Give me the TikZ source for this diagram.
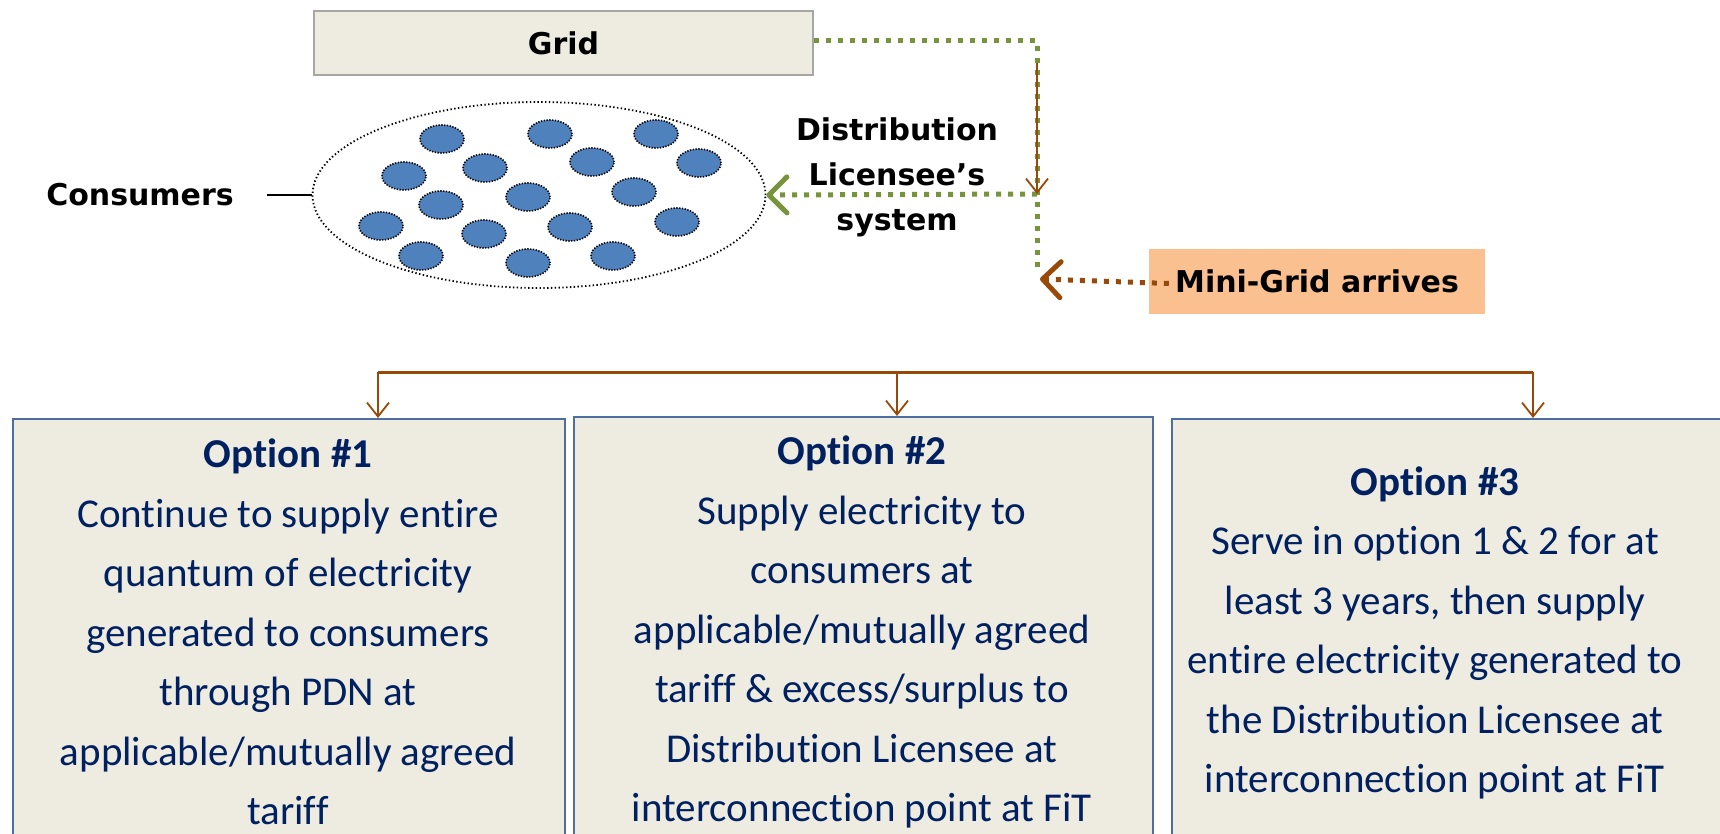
\documentclass[tikz,border=0pt]{standalone}
\usepackage{fontspec}
\setmainfont{Carlito}[Ligatures=NoCommon]
\newfontfamily\labelfont{DejaVu Sans}
\usetikzlibrary{arrows.meta,positioning,shapes.geometric}
\definecolor{panelfill}{HTML}{EEECE1}
\definecolor{panelline}{HTML}{4F6EA0}
\definecolor{gridline}{HTML}{A6A6A6}
\definecolor{minifill}{HTML}{FAC090}
\definecolor{feedgreen}{HTML}{77933C}
\definecolor{supplybrown}{HTML}{984807}
\definecolor{dotblue}{HTML}{4F81BD}
\definecolor{navy}{HTML}{002060}

\begin{document}
\begin{tikzpicture}[x=1pt,y=-1pt,
  boldlabel/.style={font=\labelfont\bfseries\fontsize{30}{45}\selectfont,align=center},
  panel/.style={draw=panelline,line width=1.5pt,fill=panelfill,anchor=north west,minimum height=432pt,minimum width=#1,inner sep=0pt},
  optiontext/.style={text=navy,align=center,font=\fontsize{41}{59.5}\selectfont},
  consumer/.style={ellipse,fill=dotblue,draw=black,line width=1.6pt,dash pattern=on 1.3pt off 1.5pt,minimum width=44pt,minimum height=28pt,inner sep=0pt},
  feed/.style={draw=feedgreen,line width=5pt,dash pattern=on 5pt off 7pt},
  supply/.style={draw=supplybrown,line width=5pt,dash pattern=on 5pt off 7pt},
  chevron/.style={-{Straight Barb[length=18pt,width=36pt,round]}},
  thinarrow/.style={draw=supplybrown,line width=1.8pt,-{Straight Barb[length=14pt,width=22pt]}}]
    \clip (0,0) rectangle (1720,834);
    \node[draw=gridline,line width=2pt,fill=panelfill,minimum width=499pt,minimum height=64pt,boldlabel] (grid) at (563.5,43) {Grid};
    \node[ellipse,draw=black,line width=1.8pt,dash pattern=on 1.4pt off 2.4pt,minimum width=453pt,minimum height=186pt] (pool) at (539,195) {};
    \foreach \x/\y [count=\i] in {442/139,550/134,656/134,404/176,485/168,592/162,699/163,441/205,528/197,634/192,381/226,484/234,570/227,677/222,421/256,528/263,613/256}
      \node[consumer] (c\i) at (\x,\y) {};
    \node[boldlabel] (cons) at (140,195) {Consumers};
    \node[boldlabel] (dls) at (897,177) {Distribution\\Licensee’s\\system};
    \node[fill=minifill,minimum width=336pt,minimum height=65pt,boldlabel] (mini) at (1317,281.5) {Mini-Grid arrives};
    \coordinate (bend) at (1037,41);
    \coordinate (tap) at (1037,194);
    \coordinate (feedend) at (1037,272);
    \coordinate (drop) at (1037,63);
    \coordinate (inlet) at (1040,279);
    \draw[line width=1.5pt] ([xshift=30pt]cons.east) -- (pool.west);
    \draw[feed] (grid.east |- bend) -- (bend) -- (feedend);
    \draw[feed,chevron] (tap) -- (pool.east);
    \draw[thinarrow] (drop) -- (tap);
    \draw[supply,chevron] ([xshift=20pt,yshift=-2pt]mini.west) -- (inlet);
    \node[panel=552pt] (opt1) at (12,418) {};
    \node[panel=579pt] (opt2) at (573,416) {};
    \node[panel=580pt] (opt3) at (1171,418) {};
    \node[optiontext] (txt1) at (288,632) {\textbf{Option \#1}\\Continue to supply entire\\quantum of electricity\\generated to consumers\\through PDN at\\applicable/mutually agreed\\tariff};
    \node[optiontext] (txt2) at (862,632) {\textbf{Option \#2}\\Supply electricity to\\consumers at\\applicable/mutually agreed\\tariff \& excess/surplus to\\Distribution Licensee at\\interconnection point at FiT};
    \node[optiontext] (txt3) at (1435,633) {\textbf{Option \#3}\\Serve in option 1 \& 2 for at\\least 3 years, then supply\\entire electricity generated to\\the Distribution Licensee at\\interconnection point at FiT};
    \coordinate (b1) at (378,372);
    \coordinate (b2) at (897,372);
    \coordinate (b3) at (1533,372);
    \draw[draw=supplybrown,line width=3pt] (b1) -- (b3);
    \draw[thinarrow] (b1) -- (b1 |- opt1.north);
    \draw[thinarrow] (b2) -- (b2 |- opt2.north);
    \draw[thinarrow] (b3) -- (b3 |- opt3.north);
\end{tikzpicture}
\end{document}
